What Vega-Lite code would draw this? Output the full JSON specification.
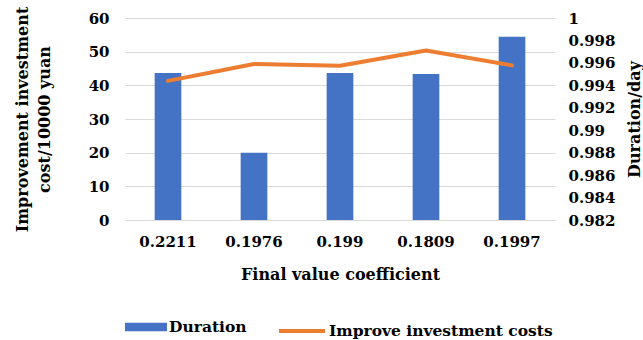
{
  "$schema": "https://vega.github.io/schema/vega-lite/v6.json",
  "width": 430,
  "height": 202,
  "autosize": "none",
  "padding": {"left": 125, "top": 18, "right": 88, "bottom": 120},
  "background": "white",
  "config": {
    "view": {"stroke": null},
    "font": "DejaVu Serif",
    "axis": {"labelFont": "DejaVu Serif", "titleFont": "DejaVu Serif", "labelFontWeight": "bold", "titleFontWeight": "bold", "labelColor": "black", "titleColor": "black", "labelFontSize": 15, "titleFontSize": 16},
    "legend": {"labelFont": "DejaVu Serif", "labelFontWeight": "bold", "labelFontSize": 15.5, "labelColor": "black", "padding": 0, "labelLimit": 400}
  },
  "data": {
    "values": [
      {"coef": "0.2211", "duration": 43.7, "cost": 0.9944},
      {"coef": "0.1976", "duration": 20.0, "cost": 0.9959},
      {"coef": "0.199", "duration": 43.7, "cost": 0.99575},
      {"coef": "0.1809", "duration": 43.4, "cost": 0.9971},
      {"coef": "0.1997", "duration": 54.4, "cost": 0.99578}
    ]
  },
  "encoding": {
    "x": {
      "field": "coef", "type": "nominal", "sort": null,
      "scale": {"paddingInner": 0.69, "paddingOuter": 0.345},
      "axis": {"title": "Final value coefficient", "labelAngle": 0, "ticks": false, "domainColor": "#d9d9d9", "labelPadding": 14, "titlePadding": 17}
    }
  },
  "layer": [
    {
      "mark": {"type": "bar"},
      "encoding": {
        "y": {
          "field": "duration", "type": "quantitative",
          "scale": {"domain": [0, 60]},
          "axis": {"title": ["Improvement investment", "cost/10000 yuan"], "values": [0, 10, 20, 30, 40, 50, 60], "grid": true, "gridColor": "#d9d9d9", "domain": false, "ticks": false, "tickSize": 0, "labelPadding": 16, "titlePadding": 36, "titleLineHeight": 22}
        },
        "fill": {
          "datum": "Duration",
          "scale": {"range": ["#4472C4"]},
          "legend": {"title": null, "orient": "none", "legendX": 0, "legendY": 288, "symbolType": "M-1,-0.2H1V0.2H-1Z", "symbolSize": 1764, "symbolStrokeWidth": 0, "labelOffset": 2}
        }
      }
    },
    {
      "mark": {"type": "line", "strokeWidth": 4, "strokeCap": "round", "strokeJoin": "round"},
      "encoding": {
        "y": {
          "field": "cost", "type": "quantitative",
          "scale": {"domain": [0.982, 1], "zero": false, "nice": false},
          "axis": {"orient": "right", "title": "Duration/day", "titleAngle": 270, "values": [0.982, 0.984, 0.986, 0.988, 0.99, 0.992, 0.994, 0.996, 0.998, 1], "format": "~g", "grid": false, "domain": false, "ticks": false, "tickSize": 0, "labelPadding": 13, "titlePadding": 28}
        },
        "stroke": {
          "datum": "Improve investment costs",
          "scale": {"range": ["#ED7D31"]},
          "legend": {"title": null, "orient": "none", "legendX": 152, "legendY": 288, "symbolType": "M-1,0H1", "symbolSize": 2116, "symbolStrokeWidth": 4, "symbolFillColor": "transparent", "labelOffset": 2}
        }
      }
    }
  ],
  "resolve": {"scale": {"y": "independent", "fill": "independent", "stroke": "independent"}}
}
